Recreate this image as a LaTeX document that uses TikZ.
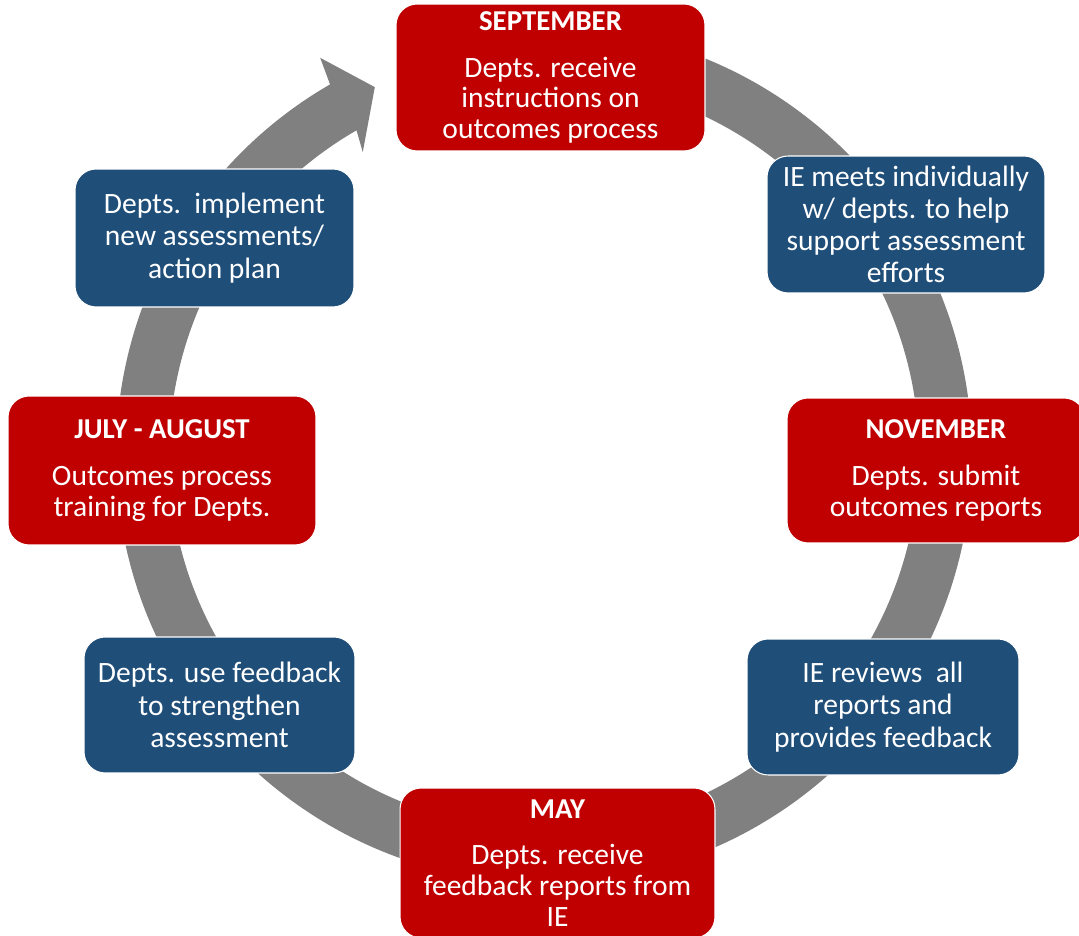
\documentclass[tikz,border=0pt]{standalone}
\usepackage{fontspec}
\setmainfont{Carlito}
\definecolor{boxred}{HTML}{C00000}
\definecolor{boxblue}{HTML}{1F4E79}
\definecolor{ringgray}{HTML}{808080}
\tikzset{
  box/.style={rectangle, rounded corners=12pt, draw=white, line width=0.6pt, text=white, align=center, inner sep=0pt},
  redbox/.style={box, fill=boxred, font=\fontsize{16.8}{17.6}\selectfont},
  bluebox/.style={box, fill=boxblue, font=\fontsize{16.8}{18.3}\selectfont},
}
\newcommand{\boxtitle}[1]{{\fontsize{16.4}{17.6}\selectfont\bfseries #1}\\[9pt]}
\begin{document}
\begin{tikzpicture}[x=0.02cm,y=0.02cm]
\useasboundingbox (0,0) rectangle (1079,936);
\fill[white] (0,0) rectangle (1079,936);
% ring with arrow
\begin{scope}[shift={(544,481)}]
\coordinate (ringc) at (0,0);
\fill[ringgray] (90:8.56cm) arc[start angle=90, end angle=-240, radius=8.56cm]
  -- (-240.6:9.12cm) -- (-245.3:8.1cm) -- (-239.1:7.06cm) -- (-240:7.5cm)
  arc[start angle=-240, end angle=90, radius=7.5cm] -- cycle;
\end{scope}
% boxes
\node[redbox, minimum width=6.18cm, minimum height=2.94cm] (sep) at (550.5,858.5)
  {\boxtitle{SEPTEMBER}Depts. receive\\instructions on\\outcomes process};
\node[bluebox, minimum width=5.56cm, minimum height=2.74cm] (iem) at (906,711.5)
  {IE meets individually\\w/ depts. to help\\support assessment\\efforts};
\node[redbox, minimum width=5.96cm, minimum height=2.9cm] (nov) at (936,465.5)
  {\boxtitle{NOVEMBER}Depts. submit\\outcomes reports};
\node[bluebox, minimum width=5.44cm, minimum height=2.72cm] (rev) at (883,229)
  {IE reviews\ \ all\\reports and\\provides feedback};
\node[redbox, minimum width=6.3cm, minimum height=3.0cm] (may) at (557.5,73)
  {\boxtitle{MAY}Depts. receive\\feedback reports from\\IE};
\node[bluebox, minimum width=5.42cm, minimum height=2.72cm] (fb) at (219.5,231)
  {Depts. use feedback\\to strengthen\\assessment};
\node[redbox, minimum width=6.16cm, minimum height=2.98cm] (jul) at (162,465.5)
  {\boxtitle{JULY - AUGUST}Outcomes process\\training for Depts.};
\node[bluebox, minimum width=5.58cm, minimum height=2.76cm] (imp) at (214.5,698)
  {Depts.\ \ implement\\new assessments/\\action plan};
\end{tikzpicture}
\end{document}
